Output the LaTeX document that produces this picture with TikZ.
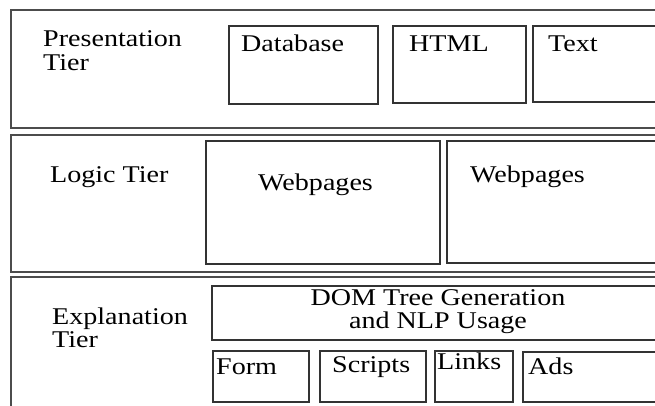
\documentclass[tikz,border=0pt]{standalone}
\usepackage{fontspec}
\setmainfont[FakeStretch=1.17]{Liberation Serif}
\begin{document}
\begin{tikzpicture}[x=1pt,y=-1pt,
  tier/.style={draw=black!70,line width=1.3pt},
  inbox/.style={draw=black!80,line width=1.1pt},
  lbl/.style={inner sep=0pt,anchor=base west,font=\fontsize{24}{28}\selectfont},
  clbl/.style={inner sep=0pt,anchor=base,font=\fontsize{24}{28}\selectfont}]
\useasboundingbox (0,0) rectangle (655,405);
\clip (0,0) rectangle (655,405);
\fill[white] (0,0) rectangle (655,405);
% tiers
\draw[tier] (11,10) rectangle (662,128);
\draw[tier] (11,135) rectangle (662,272);
\draw[tier] (11,277) rectangle (662,412);
% presentation tier
\node[lbl] (pres) at (43,46) {Presentation};
\node[lbl] (prest) at (43,70) {Tier};
\draw[inbox] (229,26) rectangle (378,104);
\node[lbl] (db) at (241,51) {Database};
\draw[inbox] (393,26) rectangle (526,103);
\node[lbl] (html) at (409,51) {HTML};
\draw[inbox] (533,26) rectangle (662,102);
\node[lbl] (txt) at (548,51) {Text};
% logic tier
\node[lbl] (logic) at (50,182) {Logic Tier};
\draw[inbox] (206,141) rectangle (440,264);
\node[lbl] (web1) at (258,190) {Webpages};
\draw[inbox] (447,141) rectangle (662,263);
\node[lbl] (web2) at (470,182) {Webpages};
% explanation tier
\node[lbl] (expl) at (52,324) {Explanation};
\node[lbl] (explt) at (52,347) {Tier};
\draw[inbox] (212,286) rectangle (662,340);
\node[clbl] (dom1) at (438,305) {DOM Tree Generation};
\node[clbl] (dom2) at (438,328) {and NLP Usage};
\draw[inbox] (213,351) rectangle (309,402);
\node[lbl] (form) at (216,374) {Form};
\draw[inbox] (320,351) rectangle (426,402);
\node[lbl] (scr) at (332,372) {Scripts};
\draw[inbox] (435,351) rectangle (513,402);
\node[lbl] (links) at (437,369) {Links};
\draw[inbox] (523,352) rectangle (662,402);
\node[lbl] (ads) at (528,374) {Ads};
\end{tikzpicture}
\end{document}
